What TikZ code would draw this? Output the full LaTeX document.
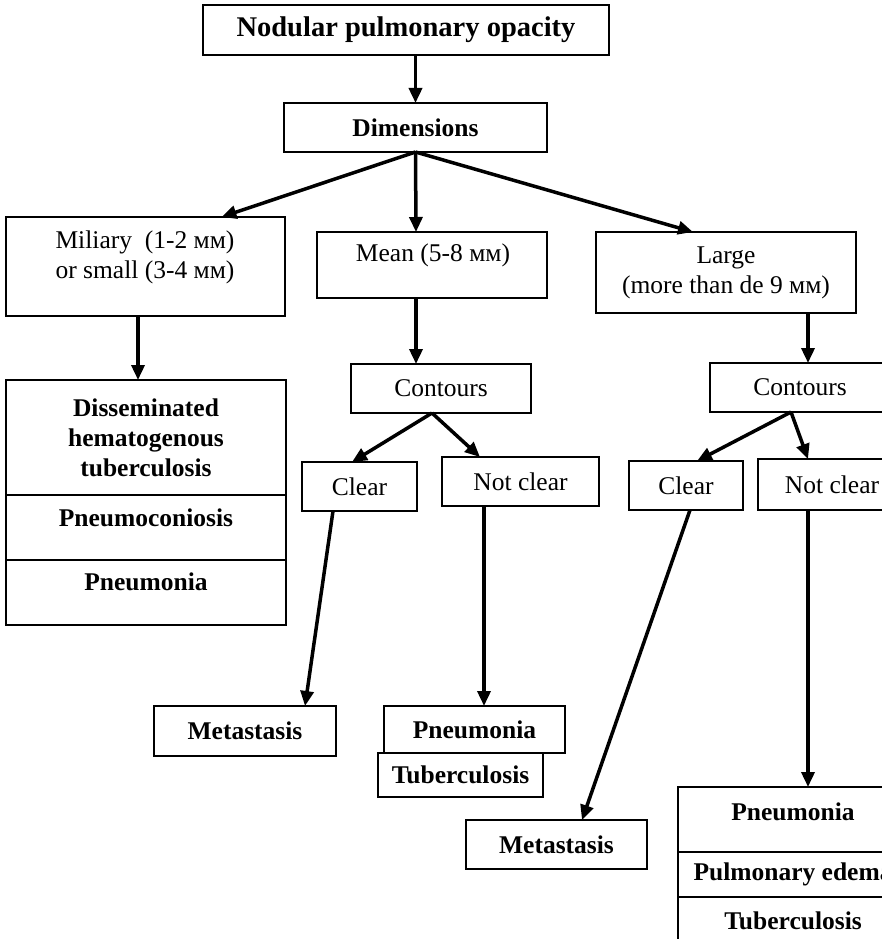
\documentclass[tikz,border=0pt]{standalone}
\usepackage{fontspec}
\setmainfont{Liberation Serif}
\usetikzlibrary{arrows.meta}
\begin{document}
\begin{tikzpicture}[x=1pt,y=-1pt,
  box/.style={draw, line width=1.6pt, inner sep=0pt, outer sep=0pt, align=center,
              font=\fontsize{25.5}{30}\selectfont},
  bbox/.style={box, font=\fontsize{25.5}{30}\selectfont\bfseries},
  txt/.style={inner sep=0pt, align=center, font=\fontsize{25.5}{30}\selectfont},
  btxt/.style={txt, font=\fontsize{25.5}{30}\selectfont\bfseries},
  arr/.style={line width=3.5pt, -{Triangle[length=15pt,width=13pt]}}]
\useasboundingbox (0,0) rectangle (882,939);
\clip (0,0) rectangle (882,939);

% root and first split
\node[bbox, minimum width=406pt, minimum height=50pt, font=\fontsize{28.5}{32}\selectfont\bfseries]
  (top) at (406,30) {Nodular pulmonary opacity};
\node[bbox, minimum width=263pt, minimum height=49pt] (dim) at (415.5,127.5) {Dimensions};

% size classes
\node[box, minimum width=279pt, minimum height=99pt] (mil) at (145.5,266.5) {};
\node[txt] (miltxt) at (145,257) {Miliary\ \ (1-2 мм)\\or small (3-4 мм)};
\node[box, minimum width=230pt, minimum height=66pt] (mean) at (432,265) {};
\node[txt] (meantxt) at (433,255) {Mean (5-8 мм)};
\node[box, minimum width=260pt, minimum height=81pt] (large) at (726,272.5)
  {Large\\(more than de 9 мм)};

% small nodules: stacked diagnoses
\node[bbox, minimum width=280pt, minimum height=115pt] (dis1) at (146,437.5)
  {Disseminated\\hematogenous\\tuberculosis};
\node[box, minimum width=280pt, minimum height=65pt] (dis2) at (146,527.5) {};
\node[btxt] (dis2txt) at (146,518) {Pneumoconiosis};
\node[box, minimum width=280pt, minimum height=65pt] (dis3) at (146,592.5) {};
\node[btxt] (dis3txt) at (146,582) {Pneumonia};

% mean nodules
\node[box, minimum width=180pt, minimum height=49pt] (cm) at (441,388.5) {Contours};
\node[box, minimum width=115pt, minimum height=49pt] (clr1) at (359.5,486.5) {Clear};
\node[box, minimum width=157pt, minimum height=49pt] (ncl1) at (520.5,481.5) {Not clear};
\node[bbox, minimum width=182pt, minimum height=50pt] (met1) at (245,731) {Metastasis};
\node[bbox, minimum width=181pt, minimum height=47pt] (pn1) at (474.5,729.5) {Pneumonia};
\node[bbox, minimum width=165pt, minimum height=44pt] (tb1) at (460.5,775) {Tuberculosis};

% large nodules
\node[box, minimum width=180pt, minimum height=49pt] (cr) at (800,387.5) {Contours};
\node[box, minimum width=114pt, minimum height=49pt] (clr2) at (686,485.5) {Clear};
\node[box, minimum width=148pt, minimum height=51pt] (ncl2) at (832,484.5) {Not clear};
\node[bbox, minimum width=181pt, minimum height=49pt] (met2) at (556.5,844.5) {Metastasis};
\node[box, minimum width=230pt, minimum height=65pt] (rg1) at (793,819.5) {};
\node[btxt] (rg1txt) at (793,812) {Pneumonia};
\node[bbox, minimum width=230pt, minimum height=45pt] (rg2) at (793,874.5) {Pulmonary edema};
\node[bbox, minimum width=230pt, minimum height=48pt] (rg3) at (793,921) {Tuberculosis};

% connectors
\draw[arr] (dim.north |- top.south) -- (dim.north);
\draw[arr] (dim.south) -- ([xshift=76pt]mil.north);
\draw[arr] (dim.south) -- ([xshift=-16pt]mean.north);
\draw[arr] (dim.south) -- ([xshift=-33pt]large.north);
\draw[arr] ([xshift=-7.5pt]mil.south) -- ([xshift=-8pt]dis1.north);
\draw[arr] ([xshift=-16pt]mean.south) -- ([xshift=-25pt]cm.north);
\draw[arr] ([xshift=-9pt]cm.south) -- ([xshift=-7.5pt]clr1.north);
\draw[arr] ([xshift=-9pt]cm.south) -- ([xshift=-40.5pt]ncl1.north);
\draw[arr] ([xshift=-26.5pt]clr1.south) -- ([xshift=60pt]met1.north);
\draw[arr] ([xshift=-36.5pt]ncl1.south) -- ([xshift=9.5pt]pn1.north);
\draw[arr] ([xshift=82pt]large.south) -- ([xshift=8pt]cr.north);
\draw[arr] ([xshift=-9pt]cr.south) -- ([xshift=11pt]clr2.north);
\draw[arr] ([xshift=-9pt]cr.south) -- ([xshift=-24pt]ncl2.north);
\draw[arr] ([xshift=4pt]clr2.south) -- ([xshift=25.5pt]met2.north);
\draw[arr] ([xshift=-24pt]ncl2.south) -- ([xshift=15pt]rg1.north);
\end{tikzpicture}
\end{document}
